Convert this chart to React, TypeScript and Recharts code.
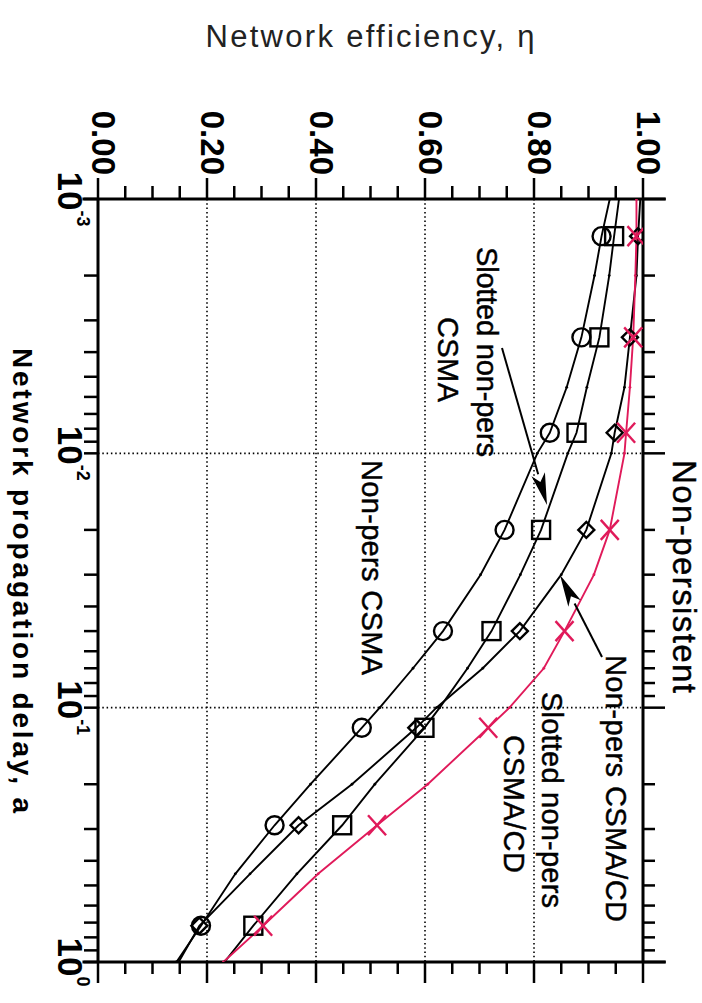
import { LineChart, Line, XAxis, YAxis, ReferenceLine } from 'recharts'

const FONT = '"Liberation Sans", Arial, Helvetica, sans-serif'
const RED = '#e01a5a'
const INK = '#000'

// propagation delay a (log axis) where the curves were read
const DELAY = [0.001, 0.0014, 0.002, 0.0035, 0.0055, 0.0083, 0.01, 0.02, 0.03, 0.05, 0.07, 0.1, 0.12, 0.2, 0.29, 0.45, 0.72, 1.0]

// network efficiency for each protocol
const NONPERS_CSMA = [0.939, 0.924, 0.911, 0.887, 0.86, 0.829, 0.806, 0.746, 0.702, 0.633, 0.578, 0.517, 0.484, 0.39, 0.324, 0.252, 0.189, 0.144]
const SLOTTED_CSMA = [0.956, 0.947, 0.938, 0.92, 0.897, 0.878, 0.862, 0.813, 0.775, 0.722, 0.678, 0.627, 0.599, 0.508, 0.448, 0.365, 0.285, 0.232]
const NONPERS_CSMACD = [0.995, 0.991, 0.988, 0.976, 0.966, 0.948, 0.942, 0.896, 0.85, 0.774, 0.706, 0.621, 0.584, 0.466, 0.368, 0.279, 0.186, 0.148]
const SLOTTED_CSMACD = [0.988, 0.988, 0.986, 0.982, 0.976, 0.969, 0.966, 0.939, 0.91, 0.856, 0.818, 0.755, 0.716, 0.605, 0.512, 0.404, 0.303, 0.23]

// delays that carry a big symbol
const MARKER_DELAYS = [0.0014, 0.0035, 0.0083, 0.02, 0.05, 0.12, 0.29, 0.72]

const DELAY_TICKS = [
  0.001, 0.002, 0.003, 0.004, 0.005, 0.006, 0.007, 0.008, 0.009,
  0.01, 0.02, 0.03, 0.04, 0.05, 0.06, 0.07, 0.08, 0.09,
  0.1, 0.2, 0.3, 0.4, 0.5, 0.6, 0.7, 0.8, 0.9, 1,
]
const ETA_TICKS = [0, 0.05, 0.1, 0.15, 0.2, 0.25, 0.3, 0.35, 0.4, 0.45, 0.5, 0.55, 0.6, 0.65, 0.7, 0.75, 0.8, 0.85, 0.9, 0.95, 1]
const ETA_GRID = [0.2, 0.4, 0.6, 0.8]
const DELAY_GRID = [0.01, 0.1]

type Kind = 'circle' | 'square' | 'diamond' | 'cross'

const isDecade = (v: number) => Math.abs(Math.log10(v) - Math.round(Math.log10(v))) < 1e-6
const isMajorEta = (v: number) => Math.abs(v * 5 - Math.round(v * 5)) < 1e-6

const makeDot = (kind: Kind, color: string) => (props: any) => {
  const { cx, cy, payload, index } = props
  const key = `${kind}-${index}`
  if (cx == null || cy == null) return <g key={key} />
  if (!MARKER_DELAYS.includes(payload.a)) {
    return <circle key={key} cx={cx} cy={cy} r={1.4} fill={color} />
  }
  const s = { fill: 'none', stroke: color, strokeWidth: 2.4 }
  if (kind === 'circle') return <circle key={key} cx={cx} cy={cy} r={9} {...s} />
  if (kind === 'square') return <rect key={key} x={cx - 9} y={cy - 9} width={18} height={18} {...s} />
  if (kind === 'diamond') {
    return <polygon key={key} points={`${cx},${cy - 8} ${cx + 8},${cy} ${cx},${cy + 8} ${cx - 8},${cy}`} {...s} />
  }
  return (
    <g key={key} {...s}>
      <line x1={cx - 10} y1={cy - 9} x2={cx + 10} y2={cy + 9} />
      <line x1={cx - 10} y1={cy + 9} x2={cx + 10} y2={cy - 9} />
    </g>
  )
}

const DelayTickBottom = ({ x, y, payload }: any) => {
  const v = payload.value
  const exp = Math.round(Math.log10(v))
  return (
    <g>
      <line x1={x} x2={x} y1={y} y2={y + 14} stroke={INK} strokeWidth={2.5} />
      {isDecade(v) && (
        <text x={x} y={y + 40} textAnchor="middle" fontFamily={FONT} fontWeight="bold" fill={INK}>
          <tspan fontSize={35}>10</tspan>
          <tspan fontSize={18} dy={-19}>{exp}</tspan>
        </text>
      )}
    </g>
  )
}

const DelayTickTop = ({ x, y, payload }: any) => (
  <line x1={x} x2={x} y1={y} y2={y - (isDecade(payload.value) ? 22 : 12)} stroke={INK} strokeWidth={2.5} />
)

const EtaTickLeft = ({ x, y, payload }: any) => {
  const v = payload.value
  const major = isMajorEta(v)
  return (
    <g>
      <line x1={x - (major ? 21 : 13)} x2={x} y1={y} y2={y} stroke={INK} strokeWidth={2.5} />
      {major && (
        <text x={x - 24} y={y + 6} textAnchor="end" fontSize={33} fontWeight="bold" fontFamily={FONT} fill={INK}>
          {v.toFixed(2)}
        </text>
      )}
    </g>
  )
}

const EtaTickRight = ({ x, y, payload }: any) => (
  <line x1={x} x2={x + (isMajorEta(payload.value) ? 21 : 12)} y1={y} y2={y} stroke={INK} strokeWidth={2.5} />
)

function Arrow({ from, to }: { from: [number, number]; to: [number, number] }) {
  const dx = to[0] - from[0]
  const dy = to[1] - from[1]
  const len = Math.hypot(dx, dy)
  const ux = dx / len
  const uy = dy / len
  const bx = to[0] - ux * 32
  const by = to[1] - uy * 32
  const w = 7
  return (
    <g>
      <line x1={from[0]} y1={from[1]} x2={bx} y2={by} stroke={INK} strokeWidth={2} />
      <polygon
        points={`${to[0]},${to[1]} ${bx - uy * w},${by + ux * w} ${bx + ux * 8},${by + uy * 8} ${bx + uy * w},${by - ux * w}`}
        fill={INK}
      />
    </g>
  )
}

const labelStyle = { fontFamily: FONT, fontSize: 29, fill: INK, stroke: INK, strokeWidth: 0.45 }

export default function App() {
  const data = DELAY.map((a, i) => ({
    a,
    csma: NONPERS_CSMA[i],
    slotted: SLOTTED_CSMA[i],
    cd: NONPERS_CSMACD[i],
    slottedCd: SLOTTED_CSMACD[i],
  }))

  const ids = { xAxisId: 'bottom', yAxisId: 'left' }

  return (
    <div style={{ position: 'absolute', left: 0, top: 0, width: 702, height: 1003, background: '#fff', overflow: 'hidden' }}>
      {/* chart drawn landscape, then turned a quarter clockwise */}
      <div
        style={{
          position: 'absolute',
          left: 0,
          top: 0,
          width: 1003,
          height: 702,
          transformOrigin: '0 0',
          transform: 'translate(702px, 0) rotate(90deg)',
        }}
      >
        <LineChart width={1003} height={702} data={data} margin={{ top: 0, right: 0, bottom: 0, left: 0 }}>
          <XAxis
            xAxisId="bottom"
            dataKey="a"
            type="number"
            scale="log"
            domain={[0.001, 1]}
            allowDataOverflow
            ticks={DELAY_TICKS}
            interval={0}
            height={98}
            tickSize={0}
            tickMargin={0}
            tickLine={false}
            axisLine={{ stroke: INK, strokeWidth: 3 }}
            tick={DelayTickBottom}
          />
          <XAxis
            xAxisId="top"
            orientation="top"
            dataKey="a"
            type="number"
            scale="log"
            domain={[0.001, 1]}
            allowDataOverflow
            ticks={DELAY_TICKS}
            interval={0}
            height={59}
            tickSize={0}
            tickMargin={0}
            tickLine={false}
            axisLine={{ stroke: INK, strokeWidth: 3 }}
            tick={DelayTickTop}
          />
          <YAxis
            yAxisId="left"
            type="number"
            domain={[0, 1]}
            allowDataOverflow
            ticks={ETA_TICKS}
            interval={0}
            width={199}
            tickSize={0}
            tickMargin={0}
            tickLine={false}
            axisLine={false}
            tick={EtaTickLeft}
          />
          <YAxis
            yAxisId="right"
            orientation="right"
            type="number"
            domain={[0, 1]}
            allowDataOverflow
            ticks={ETA_TICKS}
            interval={0}
            width={41}
            tickSize={0}
            tickMargin={0}
            tickLine={false}
            axisLine={false}
            tick={EtaTickRight}
          />

          {ETA_GRID.map((v) => (
            <ReferenceLine key={`gy-${v}`} {...ids} y={v} stroke={INK} strokeWidth={1.6} strokeDasharray="1.5 2.8" />
          ))}
          {DELAY_GRID.map((v) => (
            <ReferenceLine key={`gx-${v}`} {...ids} x={v} stroke={INK} strokeWidth={1.6} strokeDasharray="1.5 2.8" />
          ))}
          {[0.001, 1].map((v) => (
            <ReferenceLine
              key={`frame-${v}`}
              {...ids}
              ifOverflow="visible"
              segment={[{ x: v, y: -0.0285 }, { x: v, y: 1.042 }]}
              stroke={INK}
              strokeWidth={3}
            />
          ))}

          <Line {...ids} type="linear" dataKey="csma" stroke={INK} strokeWidth={1.9} dot={makeDot('circle', INK)} isAnimationActive={false} />
          <Line {...ids} type="linear" dataKey="slotted" stroke={INK} strokeWidth={1.9} dot={makeDot('square', INK)} isAnimationActive={false} />
          <Line {...ids} type="linear" dataKey="cd" stroke={INK} strokeWidth={1.9} dot={makeDot('diamond', INK)} isAnimationActive={false} />
          <Line {...ids} type="linear" dataKey="slottedCd" stroke={RED} strokeWidth={1.9} dot={makeDot('cross', RED)} isAnimationActive={false} />
        </LineChart>

        <svg width={1003} height={702} style={{ position: 'absolute', left: 0, top: 0, pointerEvents: 'none' }}>
          <text x={460} y={29} textLength={233} lengthAdjust="spacing" {...labelStyle} fontSize={33}>Non-persistent</text>
          <text x={247} y={225} textLength={210} lengthAdjust="spacing" {...labelStyle}>Slotted non-pers</text>
          <text x={317} y={264} textLength={85} lengthAdjust="spacing" {...labelStyle}>CSMA</text>
          <text x={460} y={340} textLength={215} lengthAdjust="spacing" {...labelStyle}>Non-pers CSMA</text>
          <text x={655} y={96} textLength={267} lengthAdjust="spacing" {...labelStyle}>Non-pers CSMA/CD</text>
          <text x={692} y={160} textLength={216} lengthAdjust="spacing" {...labelStyle}>Slotted non-pers</text>
          <text x={735} y={198} textLength={138} lengthAdjust="spacing" {...labelStyle}>CSMA/CD</text>
          <Arrow from={[348, 200]} to={[505, 155]} />
          <Arrow from={[657, 100]} to={[575, 142]} />
          <text
            x={580.5}
            y={689}
            textAnchor="middle"
            textLength={465}
            lengthAdjust="spacing"
            fontFamily={FONT}
            fontSize={28}
            fontWeight="bold"
            fill={INK}
          >
            Network propagation delay, a
          </text>
        </svg>
      </div>

      <svg width={702} height={70} style={{ position: 'absolute', left: 0, top: 0, pointerEvents: 'none' }}>
        <text x={370} y={47} textAnchor="middle" textLength={329} lengthAdjust="spacing" fontFamily={FONT} fontSize={31} fill="#222">
          Network efficiency, η
        </text>
      </svg>
    </div>
  )
}
